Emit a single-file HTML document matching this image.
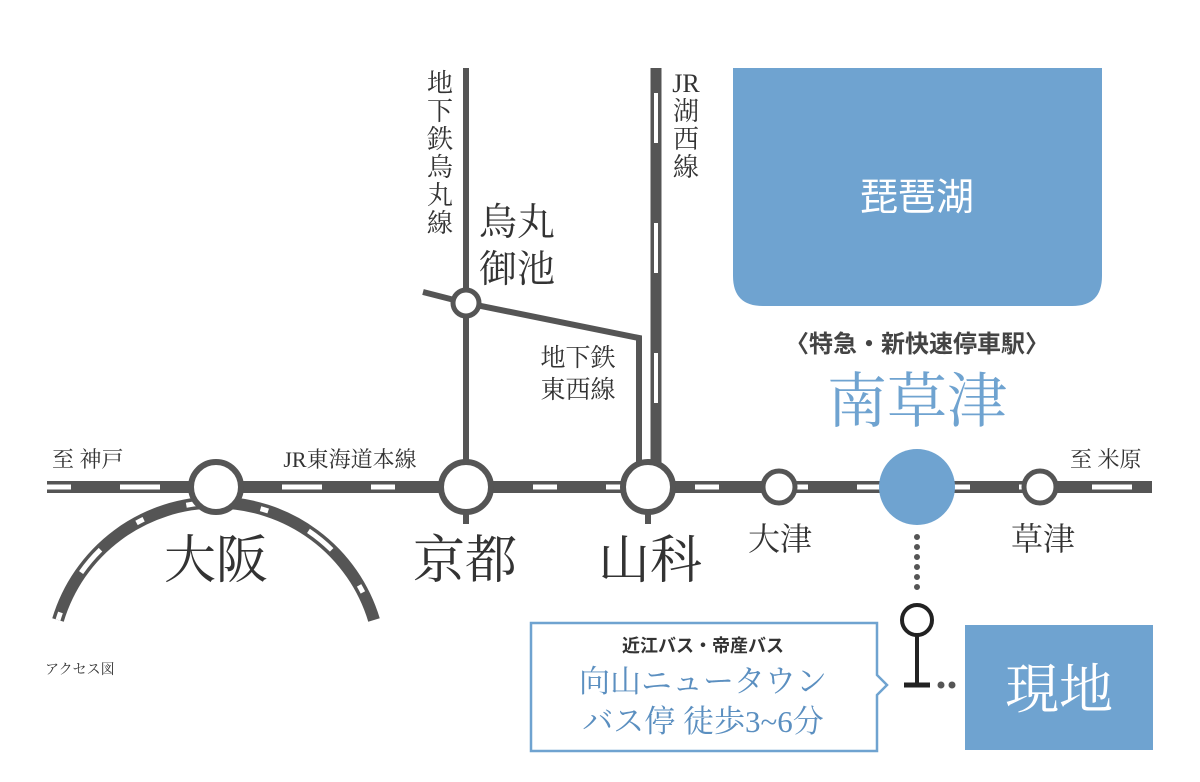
<!DOCTYPE html>
<html><head><meta charset="utf-8"><style>
html,body{margin:0;padding:0;background:#fff;}
svg{display:block;}
.s{font-family:"Liberation Serif","Noto Serif CJK SC",serif;fill:#333;}
.g{font-family:"Liberation Sans","Noto Sans CJK JP",sans-serif;}
</style></head><body>
<svg width="1200" height="782" viewBox="0 0 1200 782" xmlns="http://www.w3.org/2000/svg">
<path d="M733 68 H1102 V276 Q1102 306 1072 306 H763 Q733 306 733 276 Z" fill="#6fa3d0"/>
<text x="917" y="210" text-anchor="middle" class="g" font-size="38" fill="#fff">琵琶湖</text>

<line x1="466" y1="68" x2="466" y2="487" stroke="#555" stroke-width="6"/>
<polyline points="423,292 466,303 639,338 639,470" fill="none" stroke="#555" stroke-width="6"/>
<line x1="656" y1="68" x2="656" y2="470" stroke="#555" stroke-width="11"/>
<line x1="656" y1="68" x2="656" y2="470" stroke="#fff" stroke-width="4" stroke-dasharray="0 25 50 55"/>

<path d="M58 620 A165 165 0 0 1 374 620" fill="none" stroke="#555" stroke-width="12"/>
<path d="M58 620 A165 165 0 0 1 374 620" fill="none" stroke="#fff" stroke-width="5" stroke-dasharray="8 45 30 45" />

<line x1="47" y1="487" x2="1152" y2="487" stroke="#555" stroke-width="12"/>
<line x1="47" y1="487" x2="1152" y2="487" stroke="#fff" stroke-width="5" stroke-dasharray="24 49 40 49"/>

<circle cx="466" cy="303" r="13" fill="#fff" stroke="#555" stroke-width="5"/>
<circle cx="216" cy="487" r="25" fill="#fff" stroke="#555" stroke-width="6"/>
<circle cx="466" cy="487" r="25" fill="#fff" stroke="#555" stroke-width="6"/>
<circle cx="648" cy="487" r="25" fill="#fff" stroke="#555" stroke-width="6"/>
<line x1="466" y1="512" x2="466" y2="524" stroke="#555" stroke-width="6"/>
<line x1="648" y1="512" x2="648" y2="524" stroke="#555" stroke-width="6"/>
<circle cx="779" cy="487" r="16" fill="#fff" stroke="#555" stroke-width="5"/>
<circle cx="1040" cy="487" r="16" fill="#fff" stroke="#555" stroke-width="5"/>
<circle cx="917" cy="487" r="38" fill="#6fa3d0"/>

<text x="52" y="467" class="s" font-size="22">至 神戸</text>
<text x="350" y="467" class="s" font-size="22" text-anchor="middle">JR東海道本線</text>
<text x="1070" y="467" class="s" font-size="22">至 米原</text>
<text x="216" y="578" class="s" font-size="52" text-anchor="middle">大阪</text>
<text x="465" y="578" class="s" font-size="52" text-anchor="middle">京都</text>
<text x="650" y="578" class="s" font-size="52" text-anchor="middle">山科</text>
<text x="780" y="550" class="s" font-size="32" text-anchor="middle">大津</text>
<text x="1043" y="550" class="s" font-size="32" text-anchor="middle">草津</text>
<g class="s" font-size="26" text-anchor="middle">
<text x="440" y="92">地</text><text x="440" y="120">下</text><text x="440" y="148">鉄</text><text x="440" y="176">烏</text><text x="440" y="204">丸</text><text x="440" y="232">線</text>
<text x="686" y="92">JR</text><text x="686" y="120">湖</text><text x="686" y="148">西</text><text x="686" y="176">線</text>
</g>
<text x="517" y="235" class="s" font-size="38" text-anchor="middle">烏丸</text>
<text x="517" y="282" class="s" font-size="38" text-anchor="middle">御池</text>
<text x="578" y="366" class="s" font-size="25" text-anchor="middle">地下鉄</text>
<text x="578" y="398" class="s" font-size="25" text-anchor="middle">東西線</text>
<text x="917" y="352" class="g" font-size="24" font-weight="bold" fill="#444" text-anchor="middle">〈特急・新快速停車駅〉</text>
<text x="917" y="422" class="s" font-size="60" text-anchor="middle" style="fill:#6fa3d0">南草津</text>
<text x="45" y="674" class="s" font-size="14">アクセス図</text>

<line x1="917" y1="537" x2="917" y2="592" stroke="#555" stroke-width="6" stroke-linecap="round" stroke-dasharray="0 10"/>
<circle cx="917" cy="620" r="15" fill="none" stroke="#222" stroke-width="4"/>
<line x1="917" y1="635" x2="917" y2="684" stroke="#222" stroke-width="4"/>
<line x1="904" y1="685" x2="930" y2="685" stroke="#222" stroke-width="5"/>
<circle cx="941" cy="685" r="3.5" fill="#555"/><circle cx="952" cy="685" r="3.5" fill="#555"/>

<path d="M531 623 H877 V675 L887 685 L877 695 V751 H531 Z" fill="#fff" stroke="#6fa3d0" stroke-width="2.5"/>
<text x="703" y="652" class="g" font-size="18" font-weight="bold" fill="#333" text-anchor="middle">近江バス・帝産バス</text>
<text x="703" y="692" class="s" font-size="31" text-anchor="middle" style="fill:#5b8fc0">向山ニュータウン</text>
<text x="703" y="732" class="s" font-size="31" text-anchor="middle" style="fill:#5b8fc0">バス停 徒歩3~6分</text>

<rect x="965" y="625" width="188" height="125" fill="#6fa3d0"/>
<text x="1059" y="708" class="s" font-size="54" text-anchor="middle" style="fill:#fff">現地</text>
</svg>
</body></html>
